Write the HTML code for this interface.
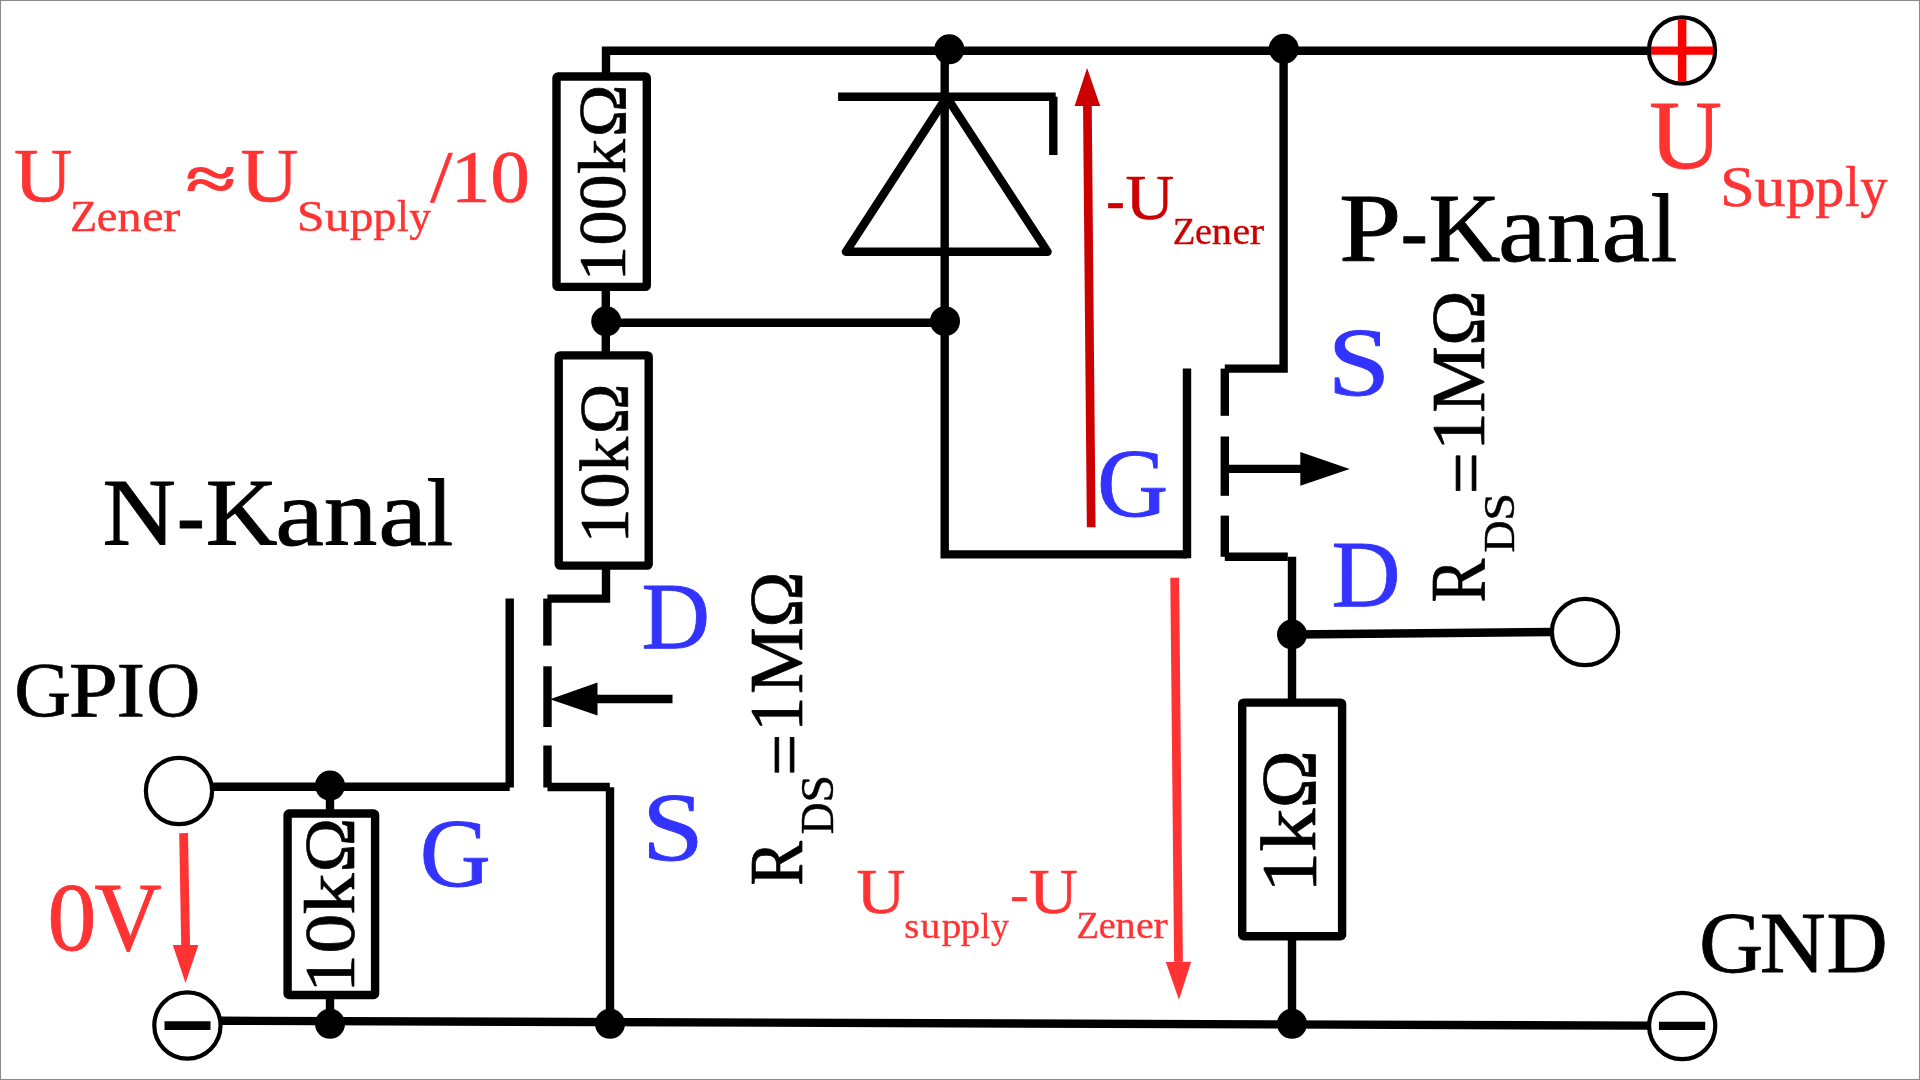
<!DOCTYPE html>
<html><head><meta charset="utf-8"><title>MOSFET Schaltung</title>
<style>
html,body{margin:0;padding:0;background:#fff;}
body{width:1920px;height:1080px;overflow:hidden;font-family:"Liberation Serif",serif;}
svg{display:block;will-change:transform;}
text{font-family:"Liberation Serif",serif;}
</style></head>
<body>
<svg width="1920" height="1080" viewBox="0 0 1920 1080">
<rect x="0" y="0" width="1920" height="1080" fill="#fff"/>
<rect x="0.5" y="0.5" width="1919" height="1079" fill="none" stroke="#8a8a8a" stroke-width="1"/>
<polyline points="606,76.5 606,50.7 1649,50.7" fill="none" stroke="#000" stroke-width="8.4" stroke-linejoin="miter" stroke-linecap="butt"/>
<rect x="556.5" y="76.5" width="90.30" height="210.40" rx="1.5" fill="none" stroke="#000" stroke-width="8.4" stroke-linejoin="round"/>
<line x1="605.8" y1="290" x2="605.8" y2="352" stroke="#000" stroke-width="8.4" stroke-linecap="butt"/>
<line x1="606" y1="322.7" x2="945" y2="322.7" stroke="#000" stroke-width="8.4" stroke-linecap="butt"/>
<rect x="558.7" y="355.4" width="90.00" height="210.20" rx="1.5" fill="none" stroke="#000" stroke-width="8.4" stroke-linejoin="round"/>
<polyline points="606,569 606,598.6 547.4,598.6" fill="none" stroke="#000" stroke-width="8.4" stroke-linejoin="miter" stroke-linecap="butt"/>
<line x1="547.4" y1="598.6" x2="547.4" y2="645.6" stroke="#000" stroke-width="8.4" stroke-linecap="butt"/>
<line x1="547.5" y1="666.3" x2="547.5" y2="727" stroke="#000" stroke-width="8.4" stroke-linecap="butt"/>
<line x1="547.5" y1="745.5" x2="547.5" y2="787.5" stroke="#000" stroke-width="8.4" stroke-linecap="butt"/>
<line x1="509.7" y1="598.6" x2="509.7" y2="787.5" stroke="#000" stroke-width="8.4" stroke-linecap="butt"/>
<line x1="212" y1="786.8" x2="509.7" y2="786.8" stroke="#000" stroke-width="8.4" stroke-linecap="butt"/>
<line x1="547.5" y1="787" x2="609.8" y2="787" stroke="#000" stroke-width="8.4" stroke-linecap="butt"/>
<line x1="610" y1="787.2" x2="610" y2="1024" stroke="#000" stroke-width="8.4" stroke-linecap="butt"/>
<line x1="597" y1="699" x2="672.5" y2="699" stroke="#000" stroke-width="8.4" stroke-linecap="butt"/>
<polygon points="597.5,682.5 550,699.2 597.5,715.5" fill="#000"/>
<polyline points="944.7,50 944.7,554.4 1187,554.4" fill="none" stroke="#000" stroke-width="8.4" stroke-linejoin="miter" stroke-linecap="butt"/>
<line x1="1187" y1="368.6" x2="1187" y2="558.2" stroke="#000" stroke-width="8.4" stroke-linecap="butt"/>
<line x1="838.1" y1="96.7" x2="1055.7" y2="96.7" stroke="#000" stroke-width="8.4" stroke-linecap="butt"/>
<line x1="1053.3" y1="96.7" x2="1053.3" y2="155" stroke="#000" stroke-width="8.4" stroke-linecap="butt"/>
<polygon points="846,251.8 1047.5,251.8 946.6,97" fill="none" stroke="#000" stroke-width="8.5" stroke-linejoin="round"/>
<polyline points="1283.6,49 1283.6,368.6 1224.8,368.6" fill="none" stroke="#000" stroke-width="8.4" stroke-linejoin="miter" stroke-linecap="butt"/>
<line x1="1224.8" y1="368.6" x2="1224.8" y2="415.8" stroke="#000" stroke-width="8.4" stroke-linecap="butt"/>
<line x1="1224.8" y1="436.5" x2="1224.8" y2="495.8" stroke="#000" stroke-width="8.4" stroke-linecap="butt"/>
<line x1="1224.8" y1="515.6" x2="1224.8" y2="556.8" stroke="#000" stroke-width="8.4" stroke-linecap="butt"/>
<line x1="1224.8" y1="556.8" x2="1287.8" y2="556.8" stroke="#000" stroke-width="8.4" stroke-linecap="butt"/>
<line x1="1292" y1="556.8" x2="1292" y2="703" stroke="#000" stroke-width="8.4" stroke-linecap="butt"/>
<line x1="1228" y1="468.9" x2="1301" y2="468.9" stroke="#000" stroke-width="8.4" stroke-linecap="butt"/>
<polygon points="1300.3,452 1349.7,469.1 1300.3,485.8" fill="#000"/>
<line x1="1292" y1="634.5" x2="1552" y2="632" stroke="#000" stroke-width="8.4" stroke-linecap="butt"/>
<rect x="1242.2" y="702.6" width="99.90" height="233.60" rx="1.5" fill="none" stroke="#000" stroke-width="8.4" stroke-linejoin="round"/>
<line x1="1292" y1="936" x2="1292" y2="1024" stroke="#000" stroke-width="8.4" stroke-linecap="butt"/>
<line x1="221" y1="1020.8" x2="1648" y2="1025.6" stroke="#000" stroke-width="8.4" stroke-linecap="butt"/>
<line x1="330" y1="786" x2="330" y2="814" stroke="#000" stroke-width="8.4" stroke-linecap="butt"/>
<rect x="287.6" y="813.5" width="87.50" height="181.50" rx="1.5" fill="none" stroke="#000" stroke-width="8.4" stroke-linejoin="round"/>
<line x1="330" y1="995" x2="330" y2="1022" stroke="#000" stroke-width="8.4" stroke-linecap="butt"/>
<circle cx="949.3" cy="49.3" r="15" fill="#000"/>
<circle cx="1283.8" cy="48.8" r="15" fill="#000"/>
<circle cx="606.2" cy="321.3" r="15" fill="#000"/>
<circle cx="945" cy="321.2" r="15" fill="#000"/>
<circle cx="1292" cy="634.5" r="15" fill="#000"/>
<circle cx="1292" cy="1023.8" r="15" fill="#000"/>
<circle cx="610" cy="1023.8" r="15" fill="#000"/>
<circle cx="330" cy="1023.8" r="15" fill="#000"/>
<circle cx="330" cy="785.6" r="15" fill="#000"/>
<circle cx="1682" cy="50.5" r="33.1" fill="#fff" stroke="#000" stroke-width="4.2"/>
<line x1="1682.1" y1="19.3" x2="1682.1" y2="81.8" stroke="#ff0000" stroke-width="8.5" stroke-linecap="butt"/>
<line x1="1651" y1="50.6" x2="1713" y2="50.6" stroke="#ff0000" stroke-width="8.4" stroke-linecap="butt"/>
<circle cx="1585" cy="632" r="33.1" fill="#fff" stroke="#000" stroke-width="4.2"/>
<circle cx="179" cy="791" r="33.1" fill="#fff" stroke="#000" stroke-width="4.2"/>
<circle cx="187.4" cy="1025.5" r="33.1" fill="#fff" stroke="#000" stroke-width="4.2"/>
<line x1="164.5" y1="1025.6" x2="210.5" y2="1025.6" stroke="#000" stroke-width="8.7" stroke-linecap="butt"/>
<circle cx="1682.2" cy="1026" r="33.1" fill="#fff" stroke="#000" stroke-width="4.2"/>
<line x1="1658.9" y1="1025.9" x2="1705.2" y2="1025.9" stroke="#000" stroke-width="8.3" stroke-linecap="butt"/>
<line x1="1091.2" y1="527.3" x2="1087.4" y2="106" stroke="#cc0000" stroke-width="8.7" stroke-linecap="butt"/><polygon points="1100.20,105.90 1087.1,68 1074.60,106.10" fill="#cc0000"/>
<line x1="1174.7" y1="577.8" x2="1178.5" y2="961.8" stroke="#ff3333" stroke-width="8.8" stroke-linecap="butt"/><polygon points="1165.80,961.97 1179,999.8 1191.20,961.63" fill="#ff3333"/>
<line x1="183.6" y1="833.2" x2="185.6" y2="945" stroke="#ff3333" stroke-width="8.8" stroke-linecap="butt"/><polygon points="172.80,944.97 185.5,983 198.40,945.03" fill="#ff3333"/>
<g font-family="Liberation Serif, serif">
<text x="13.99" y="201.15" font-size="77.17" fill="#ff3333" textLength="58.35" lengthAdjust="spacingAndGlyphs" stroke="#ff3333" stroke-width="0.70" stroke-linejoin="round">U</text>
<text font-size="45.17" fill="#ff3333" stroke="#ff3333" stroke-width="0.41" stroke-linejoin="round"><tspan x="70.08" y="230.69" textLength="27.20" lengthAdjust="spacingAndGlyphs">Z</tspan><tspan x="96.85" y="230.69" textLength="20.62" lengthAdjust="spacingAndGlyphs">e</tspan><tspan x="117.29" y="230.69" textLength="24.33" lengthAdjust="spacingAndGlyphs">n</tspan><tspan x="142.18" y="230.69" textLength="21.34" lengthAdjust="spacingAndGlyphs">e</tspan><tspan x="163.06" y="230.69" textLength="17.35" lengthAdjust="spacingAndGlyphs">r</tspan></text>
<text x="186.30" y="199.40" font-size="60.68" fill="#ff3333" textLength="49.39" lengthAdjust="spacingAndGlyphs" stroke="#ff3333" stroke-width="1.80" stroke-linejoin="round">≈</text>
<text x="240.64" y="201.15" font-size="77.17" fill="#ff3333" textLength="58.04" lengthAdjust="spacingAndGlyphs" stroke="#ff3333" stroke-width="0.70" stroke-linejoin="round">U</text>
<text font-size="44.42" fill="#ff3333" stroke="#ff3333" stroke-width="0.41" stroke-linejoin="round"><tspan x="296.75" y="230.70" textLength="27.80" lengthAdjust="spacingAndGlyphs">S</tspan><tspan x="324.66" y="230.70" textLength="24.78" lengthAdjust="spacingAndGlyphs">u</tspan><tspan x="349.79" y="230.70" textLength="23.70" lengthAdjust="spacingAndGlyphs">p</tspan><tspan x="373.21" y="230.70" textLength="23.25" lengthAdjust="spacingAndGlyphs">p</tspan><tspan x="397.05" y="230.70" textLength="11.80" lengthAdjust="spacingAndGlyphs">l</tspan><tspan x="409.17" y="230.70" textLength="21.75" lengthAdjust="spacingAndGlyphs">y</tspan></text>
<text font-size="74.72" fill="#ff3333" stroke="#ff3333" stroke-width="0.68" stroke-linejoin="round"><tspan x="430.39" y="201.56" textLength="22.20" lengthAdjust="spacingAndGlyphs">/</tspan><tspan x="450.79" y="201.56" textLength="39.74" lengthAdjust="spacingAndGlyphs">1</tspan><tspan x="490.50" y="201.56" textLength="39.31" lengthAdjust="spacingAndGlyphs">0</tspan></text>
<text font-size="64.37" fill="#cc0000" stroke="#cc0000" stroke-width="0.59" stroke-linejoin="round"><tspan x="1106.35" y="220.64" font-size="64.17" textLength="18.46" lengthAdjust="spacingAndGlyphs">-</tspan><tspan x="1125.45" y="218.71" textLength="48.65" lengthAdjust="spacingAndGlyphs">U</tspan></text>
<text font-size="38.40" fill="#cc0000" stroke="#cc0000" stroke-width="0.35" stroke-linejoin="round"><tspan x="1172.83" y="244.22" textLength="22.53" lengthAdjust="spacingAndGlyphs">Z</tspan><tspan x="1195.07" y="244.22" textLength="16.97" lengthAdjust="spacingAndGlyphs">e</tspan><tspan x="1211.88" y="244.22" textLength="20.15" lengthAdjust="spacingAndGlyphs">n</tspan><tspan x="1232.43" y="244.22" textLength="17.62" lengthAdjust="spacingAndGlyphs">e</tspan><tspan x="1249.70" y="244.22" textLength="14.47" lengthAdjust="spacingAndGlyphs">r</tspan></text>
<text font-size="96.82" fill="#000" stroke="#000" stroke-width="0.88" stroke-linejoin="round"><tspan x="1339.08" y="260.76" textLength="62.40" lengthAdjust="spacingAndGlyphs">P</tspan><tspan x="1400.86" y="258.97" font-size="81.55" textLength="26.99" lengthAdjust="spacingAndGlyphs">-</tspan><tspan x="1428.55" y="260.76" textLength="71.92" lengthAdjust="spacingAndGlyphs">K</tspan><tspan x="1498.01" y="260.76" textLength="48.57" lengthAdjust="spacingAndGlyphs">a</tspan><tspan x="1546.67" y="260.76" textLength="53.39" lengthAdjust="spacingAndGlyphs">n</tspan><tspan x="1601.41" y="260.76" textLength="48.57" lengthAdjust="spacingAndGlyphs">a</tspan><tspan x="1650.63" y="260.76" textLength="26.53" lengthAdjust="spacingAndGlyphs">l</tspan></text>
<text x="1649.23" y="168.16" font-size="96.97" fill="#ff3333" textLength="72.77" lengthAdjust="spacingAndGlyphs" stroke="#ff3333" stroke-width="0.88" stroke-linejoin="round">U</text>
<text font-size="56.01" fill="#ff3333" stroke="#ff3333" stroke-width="0.51" stroke-linejoin="round"><tspan x="1719.90" y="205.74" textLength="34.72" lengthAdjust="spacingAndGlyphs">S</tspan><tspan x="1754.64" y="205.74" textLength="31.00" lengthAdjust="spacingAndGlyphs">u</tspan><tspan x="1786.13" y="205.74" textLength="29.61" lengthAdjust="spacingAndGlyphs">p</tspan><tspan x="1815.30" y="205.74" textLength="29.06" lengthAdjust="spacingAndGlyphs">p</tspan><tspan x="1845.09" y="205.74" textLength="14.77" lengthAdjust="spacingAndGlyphs">l</tspan><tspan x="1860.18" y="205.74" textLength="27.34" lengthAdjust="spacingAndGlyphs">y</tspan></text>
<text font-size="96.07" fill="#000" stroke="#000" stroke-width="0.88" stroke-linejoin="round"><tspan x="102.49" y="545.36" textLength="73.32" lengthAdjust="spacingAndGlyphs">N</tspan><tspan x="176.93" y="546.92" font-size="92.31" textLength="27.70" lengthAdjust="spacingAndGlyphs">-</tspan><tspan x="205.75" y="545.36" textLength="71.82" lengthAdjust="spacingAndGlyphs">K</tspan><tspan x="275.30" y="545.36" textLength="48.69" lengthAdjust="spacingAndGlyphs">a</tspan><tspan x="323.66" y="545.36" textLength="53.61" lengthAdjust="spacingAndGlyphs">n</tspan><tspan x="378.19" y="545.36" textLength="48.80" lengthAdjust="spacingAndGlyphs">a</tspan><tspan x="426.61" y="545.36" textLength="26.77" lengthAdjust="spacingAndGlyphs">l</tspan></text>
<text font-size="78.00" fill="#000" stroke="#000" stroke-width="0.71" stroke-linejoin="round"><tspan x="14.22" y="715.54" textLength="56.71" lengthAdjust="spacingAndGlyphs">G</tspan><tspan x="68.70" y="715.54" textLength="49.18" lengthAdjust="spacingAndGlyphs">P</tspan><tspan x="116.55" y="715.54" textLength="28.64" lengthAdjust="spacingAndGlyphs">I</tspan><tspan x="146.38" y="715.54" textLength="53.70" lengthAdjust="spacingAndGlyphs">O</tspan></text>
<text font-size="87.03" fill="#000" stroke="#000" stroke-width="0.79" stroke-linejoin="round"><tspan x="1699.09" y="971.60" textLength="64.28" lengthAdjust="spacingAndGlyphs">G</tspan><tspan x="1759.66" y="971.60" textLength="65.97" lengthAdjust="spacingAndGlyphs">N</tspan><tspan x="1826.56" y="971.60" textLength="61.11" lengthAdjust="spacingAndGlyphs">D</tspan></text>
<text font-size="98.17" fill="#ff3333" stroke="#ff3333" stroke-width="0.90" stroke-linejoin="round"><tspan x="47.43" y="949.55" textLength="48.93" lengthAdjust="spacingAndGlyphs">0</tspan><tspan x="94.62" y="949.55" textLength="67.06" lengthAdjust="spacingAndGlyphs">V</tspan></text>
<text x="419.81" y="885.56" font-size="96.97" fill="#3333ff" textLength="71.01" lengthAdjust="spacingAndGlyphs" stroke="#3333ff" stroke-width="0.88" stroke-linejoin="round">G</text>
<text x="641.59" y="649.46" font-size="96.22" fill="#3333ff" textLength="68.47" lengthAdjust="spacingAndGlyphs" stroke="#3333ff" stroke-width="0.88" stroke-linejoin="round">D</text>
<text x="641.96" y="859.66" font-size="96.97" fill="#3333ff" textLength="61.91" lengthAdjust="spacingAndGlyphs" stroke="#3333ff" stroke-width="0.88" stroke-linejoin="round">S</text>
<text x="1097.10" y="516.36" font-size="97.42" fill="#3333ff" textLength="71.23" lengthAdjust="spacingAndGlyphs" stroke="#3333ff" stroke-width="0.89" stroke-linejoin="round">G</text>
<text x="1327.50" y="394.96" font-size="97.42" fill="#3333ff" textLength="62.87" lengthAdjust="spacingAndGlyphs" stroke="#3333ff" stroke-width="0.89" stroke-linejoin="round">S</text>
<text x="1331.47" y="607.07" font-size="95.01" fill="#3333ff" textLength="69.03" lengthAdjust="spacingAndGlyphs" stroke="#3333ff" stroke-width="0.87" stroke-linejoin="round">D</text>
<text x="856.44" y="912.71" font-size="64.30" fill="#ff3333" textLength="48.87" lengthAdjust="spacingAndGlyphs" stroke="#ff3333" stroke-width="0.59" stroke-linejoin="round">U</text>
<text font-size="35.62" fill="#ff3333" stroke="#ff3333" stroke-width="0.32" stroke-linejoin="round"><tspan x="904.17" y="937.64" textLength="15.04" lengthAdjust="spacingAndGlyphs">s</tspan><tspan x="920.47" y="937.64" textLength="19.87" lengthAdjust="spacingAndGlyphs">u</tspan><tspan x="941.67" y="937.64" textLength="19.64" lengthAdjust="spacingAndGlyphs">p</tspan><tspan x="960.88" y="937.64" textLength="19.30" lengthAdjust="spacingAndGlyphs">p</tspan><tspan x="980.55" y="937.64" textLength="9.93" lengthAdjust="spacingAndGlyphs">l</tspan><tspan x="990.90" y="937.64" textLength="18.02" lengthAdjust="spacingAndGlyphs">y</tspan></text>
<text font-size="64.30" fill="#ff3333" stroke="#ff3333" stroke-width="0.59" stroke-linejoin="round"><tspan x="1010.39" y="910.73" font-size="48.84" textLength="18.14" lengthAdjust="spacingAndGlyphs">-</tspan><tspan x="1029.04" y="912.71" textLength="48.87" lengthAdjust="spacingAndGlyphs">U</tspan></text>
<text font-size="37.72" fill="#ff3333" stroke="#ff3333" stroke-width="0.34" stroke-linejoin="round"><tspan x="1076.43" y="938.13" textLength="22.56" lengthAdjust="spacingAndGlyphs">Z</tspan><tspan x="1098.69" y="938.13" textLength="17.00" lengthAdjust="spacingAndGlyphs">e</tspan><tspan x="1115.52" y="938.13" textLength="20.18" lengthAdjust="spacingAndGlyphs">n</tspan><tspan x="1136.09" y="938.13" textLength="17.65" lengthAdjust="spacingAndGlyphs">e</tspan><tspan x="1153.38" y="938.13" textLength="14.50" lengthAdjust="spacingAndGlyphs">r</tspan></text>
<text transform="translate(625.09 0) rotate(-90)" font-size="67.55" fill="#000" stroke="#000" stroke-width="0.62" stroke-linejoin="round"><tspan x="-281.62" y="0.00" textLength="35.69" lengthAdjust="spacingAndGlyphs">1</tspan><tspan x="-245.77" y="0.00" textLength="35.40" lengthAdjust="spacingAndGlyphs">0</tspan><tspan x="-210.17" y="0.00" textLength="35.93" lengthAdjust="spacingAndGlyphs">0</tspan><tspan x="-174.09" y="0.00" textLength="34.98" lengthAdjust="spacingAndGlyphs">k</tspan><tspan x="-137.35" y="0.00" textLength="52.82" lengthAdjust="spacingAndGlyphs">Ω</tspan></text>
<text transform="translate(628.48 0) rotate(-90)" font-size="70.09" fill="#000" stroke="#000" stroke-width="0.64" stroke-linejoin="round"><tspan x="-543.40" y="0.00" textLength="35.09" lengthAdjust="spacingAndGlyphs">1</tspan><tspan x="-508.66" y="0.00" textLength="36.56" lengthAdjust="spacingAndGlyphs">0</tspan><tspan x="-471.99" y="0.00" textLength="35.17" lengthAdjust="spacingAndGlyphs">k</tspan><tspan x="-434.29" y="0.00" textLength="50.70" lengthAdjust="spacingAndGlyphs">Ω</tspan></text>
<text transform="translate(353.92 0) rotate(-90)" font-size="71.59" fill="#000" stroke="#000" stroke-width="0.65" stroke-linejoin="round"><tspan x="-992.92" y="0.00" textLength="38.85" lengthAdjust="spacingAndGlyphs">1</tspan><tspan x="-953.89" y="0.00" textLength="40.17" lengthAdjust="spacingAndGlyphs">0</tspan><tspan x="-914.62" y="0.00" textLength="41.09" lengthAdjust="spacingAndGlyphs">k</tspan><tspan x="-872.46" y="0.00" textLength="54.87" lengthAdjust="spacingAndGlyphs">Ω</tspan></text>
<text transform="translate(1315.44 0) rotate(-90)" font-size="78.91" fill="#000" stroke="#000" stroke-width="0.72" stroke-linejoin="round"><tspan x="-892.89" y="0.00" textLength="40.83" lengthAdjust="spacingAndGlyphs">1</tspan><tspan x="-851.87" y="0.00" textLength="43.21" lengthAdjust="spacingAndGlyphs">k</tspan><tspan x="-808.48" y="0.00" textLength="58.50" lengthAdjust="spacingAndGlyphs">Ω</tspan></text>
<text transform="translate(802.26 883.76) rotate(-90)" x="-2.02" y="0" font-size="75.29" fill="#000" textLength="44.87" lengthAdjust="spacingAndGlyphs" stroke="#000" stroke-width="0.69" stroke-linejoin="round">R</text>
<text transform="translate(832.99 0) rotate(-90)" font-size="45.47" fill="#000" stroke="#000" stroke-width="0.41" stroke-linejoin="round"><tspan x="-834.21" y="0.00" textLength="31.76" lengthAdjust="spacingAndGlyphs">D</tspan><tspan x="-802.86" y="0.00" textLength="27.92" lengthAdjust="spacingAndGlyphs">S</tspan></text>
<text transform="translate(810.07 772.14) rotate(-90)" x="-3.75" y="0" font-size="76.73" fill="#000" textLength="42.31" lengthAdjust="spacingAndGlyphs" stroke="#000" stroke-width="0.72" stroke-linejoin="round">=</text>
<text transform="translate(802.15 0) rotate(-90)" font-size="76.29" fill="#000" stroke="#000" stroke-width="0.70" stroke-linejoin="round"><tspan x="-731.75" y="0.00" textLength="35.01" lengthAdjust="spacingAndGlyphs">1</tspan><tspan x="-693.90" y="0.00" textLength="66.75" lengthAdjust="spacingAndGlyphs">M</tspan><tspan x="-627.75" y="0.00" textLength="56.44" lengthAdjust="spacingAndGlyphs">Ω</tspan></text>
<text transform="translate(1484.14 600.64) rotate(-90)" x="-1.97" y="0" font-size="78.90" fill="#000" textLength="43.89" lengthAdjust="spacingAndGlyphs" stroke="#000" stroke-width="0.72" stroke-linejoin="round">R</text>
<text transform="translate(1514.40 0) rotate(-90)" font-size="43.37" fill="#000" stroke="#000" stroke-width="0.40" stroke-linejoin="round"><tspan x="-552.53" y="0.00" textLength="32.05" lengthAdjust="spacingAndGlyphs">D</tspan><tspan x="-520.91" y="0.00" textLength="28.21" lengthAdjust="spacingAndGlyphs">S</tspan></text>
<text transform="translate(1492.00 490.74) rotate(-90)" x="-3.76" y="0" font-size="77.89" fill="#000" textLength="42.42" lengthAdjust="spacingAndGlyphs" stroke="#000" stroke-width="0.73" stroke-linejoin="round">=</text>
<text transform="translate(1483.65 0) rotate(-90)" font-size="76.59" fill="#000" stroke="#000" stroke-width="0.70" stroke-linejoin="round"><tspan x="-450.95" y="0.00" textLength="38.86" lengthAdjust="spacingAndGlyphs">1</tspan><tspan x="-412.80" y="0.00" textLength="66.64" lengthAdjust="spacingAndGlyphs">M</tspan><tspan x="-345.91" y="0.00" textLength="55.86" lengthAdjust="spacingAndGlyphs">Ω</tspan></text>
</g>
</svg>
</body></html>
